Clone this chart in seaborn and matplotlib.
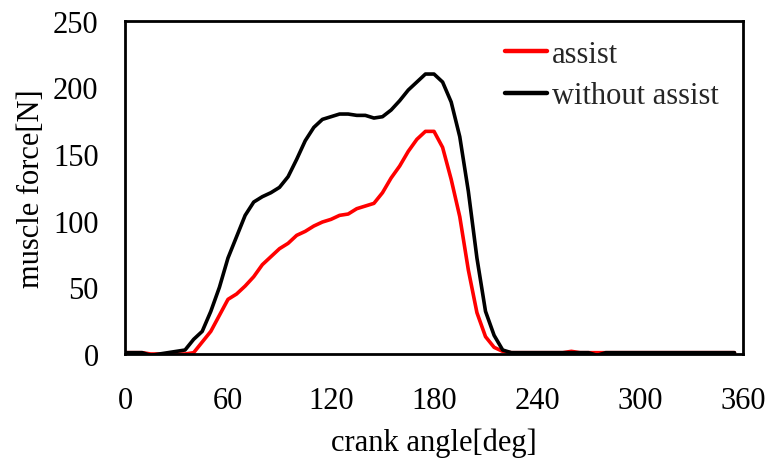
import numpy as np
import pandas as pd
import matplotlib
matplotlib.use("Agg")
import matplotlib.pyplot as plt
import seaborn as sns

crank_angle = list(range(0, 360, 5))

assist = [1, 1, 1, 0, 0, -1, 0, 0, 1, 9,
          17, 29, 41, 45, 51, 58, 67, 73, 79, 83,
          89, 92, 96, 99, 101, 104, 105, 109, 111, 113,
          121, 132, 141, 152, 161, 167, 167, 155, 131, 103,
          63, 31, 13, 5, 2, 1, 1, 1, 1, 1,
          1, 1, 2, 1, 1, 1, 1, 1, 1, 1,
          1, 1, 1, 1, 1, 1, 1, 1, 1, 1,
          1, 1]

without_assist = [1, 1, 1, -1, 0, 1, 2, 3, 11, 17,
                  32, 50, 72, 88, 104, 114, 118, 121, 125, 133,
                  146, 160, 170, 176, 178, 180, 180, 179, 179, 177,
                  178, 183, 190, 198, 204, 210, 210, 204, 189, 163,
                  122, 72, 32, 14, 3, 1, 1, 1, 1, 1,
                  1, 1, 1, 1, 1, -1, 1, 1, 1, 1,
                  1, 1, 1, 1, 1, 1, 1, 1, 1, 1,
                  1, 1]

series_names = ["assist", "without assist"]
x_ticks = [0, 60, 120, 180, 240, 300, 360]
y_ticks = [0, 50, 100, 150, 200, 250]

df = pd.DataFrame({
    "crank angle": crank_angle * 2,
    "force": assist + without_assist,
    "series": [series_names[0]] * len(crank_angle) + [series_names[1]] * len(crank_angle),
})

sns.set_theme(style="white")
plt.rcParams["font.family"] = ["Liberation Serif", "DejaVu Serif"]

FS = 22
fig = plt.figure(figsize=(7.7, 4.64), dpi=100)
ax = fig.add_axes([0.1623, 0.2349, 0.8027, 0.7183])

sns.lineplot(data=df, x="crank angle", y="force", hue="series",
             palette={"assist": "#ff0000", "without assist": "#000000"},
             linewidth=2.6, ax=ax, legend=True)

ax.set_xlim(0, 360)
ax.set_ylim(0, 250)
ax.set_xticks(x_ticks)
ax.set_yticks(y_ticks)
ax.tick_params(axis="both", length=0, labelsize=FS, colors="black")
ax.tick_params(axis="x", pad=23)
ax.tick_params(axis="y", pad=19)
ax.set_xlabel("crank angle[deg]", fontsize=FS, color="black", labelpad=9)
ax.set_ylabel("muscle force[N]", fontsize=FS, color="black", labelpad=5)
for s in ax.spines.values():
    s.set_color("black")
    s.set_linewidth(2.0)

leg = ax.legend(loc="upper left", bbox_to_anchor=(505 / 770, 1 - 41 / 464),
                bbox_transform=fig.transFigure, frameon=False,
                fontsize=FS, handlelength=1.37, handletextpad=0.17,
                labelspacing=0.4, borderaxespad=0, borderpad=0)
for h in leg.get_lines():
    h.set_linewidth(3.2)

fig.savefig("out.png", dpi=100)
